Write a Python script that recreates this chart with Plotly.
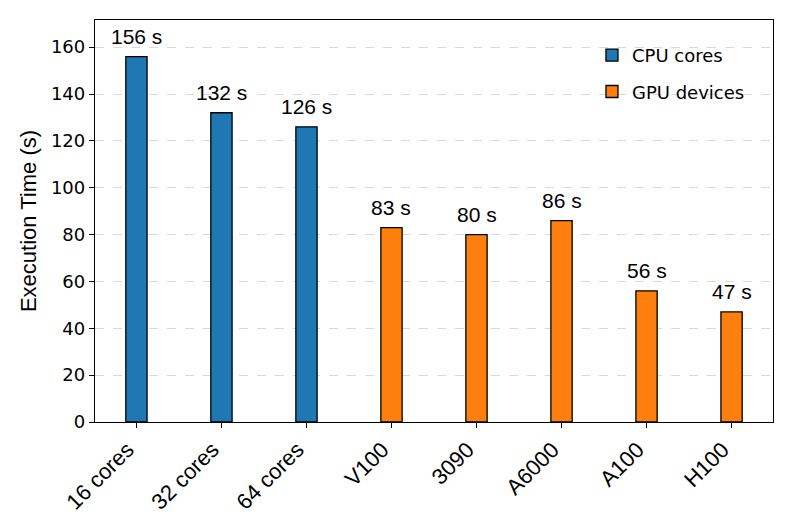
import plotly.graph_objects as go

categories = ["16 cores", "32 cores", "64 cores", "V100", "3090", "A6000", "A100", "H100"]
cpu_labels = ["16 cores", "32 cores", "64 cores"]
cpu_values = [156, 132, 126]
gpu_labels = ["V100", "3090", "A6000", "A100", "H100"]
gpu_values = [83, 80, 86, 56, 47]
y_ticks = [0, 20, 40, 60, 80, 100, 120, 140, 160]

ARIAL = "Liberation Sans, Arial, Helvetica, sans-serif"
DEJAVU = "DejaVu Sans, sans-serif"

fig = go.Figure()
fig.add_trace(go.Bar(x=cpu_labels, y=cpu_values, name="CPU cores", width=0.25,
                     marker=dict(color="#1f77b4", line=dict(color="black", width=1.3)),
                     legendgroup="cpu"))
fig.add_trace(go.Bar(x=gpu_labels, y=gpu_values, name="GPU devices", width=0.25,
                     marker=dict(color="#ff7f0e", line=dict(color="black", width=1.3)),
                     legendgroup="gpu"))

for lab, val in list(zip(cpu_labels, cpu_values)) + list(zip(gpu_labels, gpu_values)):
    fig.add_annotation(x=categories.index(lab), y=val, text=f"{val} s", showarrow=False,
                       yanchor="bottom", yshift=7,
                       font=dict(family=ARIAL, size=21, color="black"))

ymax = max(cpu_values + gpu_values) * 1.1

fig.update_layout(
    width=785, height=521,
    margin=dict(l=87, r=20, t=12, b=107),
    plot_bgcolor="white", paper_bgcolor="white",
    barmode="overlay",
    showlegend=True,
    legend=dict(x=0.733, y=0.958, xanchor="left", yanchor="top",
                font=dict(family=DEJAVU, size=18, color="black"),
                bgcolor="rgba(255,255,255,0)", traceorder="grouped",
                tracegroupgap=10, itemwidth=30),
    xaxis=dict(type="category", categoryorder="array", categoryarray=categories,
               range=[-0.4875, 7.4875], tickangle=-45, automargin=False,
               tickfont=dict(family=ARIAL, size=22, color="black"),
               ticklabelshift=-9,
               showline=True, linecolor="black", linewidth=1.3, mirror=True,
               ticks="outside", ticklen=5, tickwidth=1.2, tickcolor="black",
               showgrid=False, zeroline=False),
    yaxis=dict(range=[0, ymax], tickvals=y_ticks, automargin=False,
               tickfont=dict(family=DEJAVU, size=18, color="black"),
               title=dict(text="Execution Time (s)", font=dict(family=ARIAL, size=22, color="black"), standoff=8),
               showline=True, linecolor="black", linewidth=1.3, mirror=True,
               ticks="outside", ticklen=5, tickwidth=1.2, tickcolor="black",
               showgrid=True, gridcolor="#d9d9d9", griddash="dash", gridwidth=0.8,
               zeroline=False),
)

fig.write_html("out.html")
